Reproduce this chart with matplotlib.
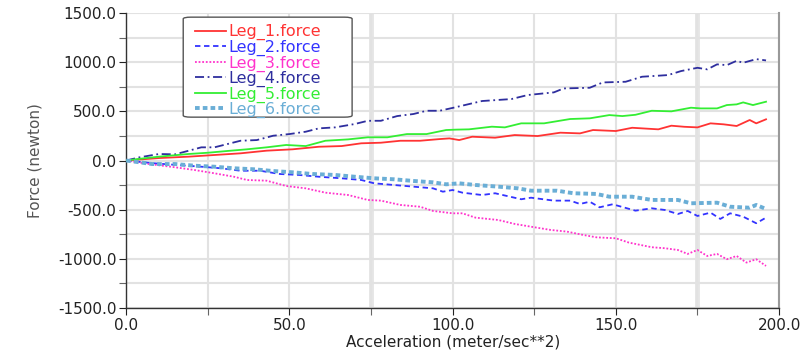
import matplotlib
matplotlib.use("Agg")
import matplotlib.pyplot as plt
from matplotlib.ticker import MultipleLocator, FormatStrFormatter
from matplotlib.patches import FancyBboxPatch

plt.rcParams['font.family'] = ['DejaVu Sans']

# ---- data ----
leg1_x = [0, 10, 19, 27, 35, 43, 51, 59, 66, 72, 78, 84, 90, 96, 99, 102, 106, 113, 119, 126, 133, 139,
          143, 150, 155, 163, 167, 171, 175, 179, 183, 187, 191, 193, 196]
leg1_y = [0, 25, 39, 56, 73, 100, 114, 140, 147, 175, 181, 201, 201, 218, 225, 208, 242, 232, 259, 249, 283, 276,
          310, 300, 333, 317, 354, 343, 337, 378, 368, 351, 412, 378, 419]

leg2_x = [0, 8, 15, 23, 29, 35, 41, 47, 53, 59, 66, 72, 76, 82, 88, 94, 97, 100, 103, 109, 113, 121, 124, 131,
          136, 139, 142, 145, 149, 156, 161, 165, 169, 172, 175, 179, 182, 185, 189, 193, 196]
leg2_y = [0, -27, -44, -63, -79, -104, -104, -137, -147, -165, -181, -198, -232, -249, -266, -283, -317, -300,
          -327, -351, -333, -394, -378, -408, -408, -442, -419, -476, -445, -510, -486, -503, -544, -513, -564,
          -530, -594, -537, -571, -638, -581]

leg3_x = [0, 7, 15, 21, 27, 33, 37, 43, 49, 55, 61, 68, 74, 78, 84, 90, 94, 100, 103, 107, 114, 119, 124,
          130, 135, 140, 144, 150, 154, 161, 165, 169, 172, 175, 178, 181, 184, 187, 190, 193, 196]
leg3_y = [0, -36, -69, -97, -130, -165, -198, -205, -259, -283, -327, -351, -401, -408, -452, -470, -513, -537,
          -537, -581, -605, -645, -673, -706, -723, -757, -781, -791, -835, -882, -892, -910, -950, -910, -971,
          -950, -1004, -971, -1038, -1004, -1072]

leg4_x = [0, 4, 10, 15, 23, 27, 35, 40, 45, 50, 55, 59, 64, 70, 74, 78, 83, 88, 92, 96, 100, 109, 118, 123,
          131, 134, 142, 146, 153, 158, 166, 170, 175, 178, 181, 184, 187, 189, 193, 196]
leg4_y = [0, 32, 66, 63, 134, 134, 201, 208, 252, 269, 293, 327, 337, 371, 404, 404, 452, 473, 506, 506, 535,
          605, 625, 666, 693, 733, 740, 794, 801, 852, 869, 910, 943, 927, 978, 970, 1014, 994, 1031, 1018]

leg5_x = [0, 4, 10, 19, 25, 31, 37, 43, 49, 55, 61, 68, 74, 80, 86, 92, 98, 101, 105, 112, 116, 121, 128,
          136, 142, 148, 152, 156, 161, 167, 173, 176, 181, 184, 187, 189, 192, 196]
leg5_y = [0, 17, 39, 66, 79, 97, 114, 134, 158, 147, 201, 215, 236, 236, 269, 269, 310, 314, 317, 344, 337,
          378, 378, 422, 429, 462, 452, 465, 506, 500, 537, 530, 530, 564, 571, 591, 564, 598]

leg6_x = [0, 8, 15, 21, 27, 33, 39, 45, 51, 57, 64, 70, 76, 82, 88, 94, 98, 102, 107, 114, 120, 124, 132,
          137, 144, 148, 155, 161, 169, 173, 181, 185, 191, 193, 196]
leg6_y = [0, -36, -36, -53, -63, -79, -89, -107, -120, -137, -147, -165, -181, -191, -208, -222, -242, -232,
          -249, -266, -283, -307, -307, -333, -340, -368, -368, -401, -401, -435, -429, -470, -480, -452, -493]

labels = ['Leg_1.force', 'Leg_2.force', 'Leg_3.force', 'Leg_4.force', 'Leg_5.force', 'Leg_6.force']

fig = plt.figure(figsize=(8.04, 3.52), dpi=100)
ax = fig.add_axes([0.157, 0.125, 0.812, 0.838])

styles = [
    dict(color='#ff3333', ls='-', lw=1.3),
    dict(color='#3333ff', ls=(0, (3, 2)), lw=1.3),
    dict(color='#ff33cc', ls=(0, (1, 1)), lw=1.3),
    dict(color='#2e2e9e', ls=(0, (5, 2, 1, 2)), lw=1.3),
    dict(color='#33ee33', ls='-', lw=1.3),
    dict(color='#6aaed6', ls=(0, (1.2, 0.8)), lw=2.8),
]
series = [(leg1_x, leg1_y), (leg2_x, leg2_y), (leg3_x, leg3_y),
          (leg4_x, leg4_y), (leg5_x, leg5_y), (leg6_x, leg6_y)]

# grid
ax.set_xlim(0, 200)
ax.set_ylim(-1500, 1500)
ax.xaxis.set_major_locator(MultipleLocator(50))
ax.xaxis.set_minor_locator(MultipleLocator(25))
ax.yaxis.set_major_locator(MultipleLocator(500))
ax.yaxis.set_minor_locator(MultipleLocator(250))
ax.grid(True, which='both', color='#e2e2e2', lw=1.5, zorder=0)
for xv in (75, 175):
    ax.axvline(xv, color='#e6e6e6', lw=3.5, zorder=0.5)
ax.axhline(0, color='#555555', lw=1.2, zorder=1)

lines = []
for (xs, ys), st, lab in zip(series, styles, labels):
    ln, = ax.plot(xs, ys, label=lab, zorder=3, **st)
    lines.append(ln)

ax.xaxis.set_major_formatter(FormatStrFormatter('%.1f'))
ax.yaxis.set_major_formatter(FormatStrFormatter('%.1f'))
ax.tick_params(axis='both', which='major', labelsize=11, colors='#222222', length=5, width=0.8, pad=2)
ax.tick_params(axis='both', which='minor', length=5, width=0.8, colors='#666666')

for s in ('left', 'bottom'):
    ax.spines[s].set_color('#333333')
    ax.spines[s].set_linewidth(1.0)
ax.spines['top'].set_visible(False)
ax.spines['right'].set_color('#999999')
ax.spines['right'].set_linewidth(1.5)

ax.set_xlabel('Acceleration (meter/sec**2)', fontsize=11, color='#222222', labelpad=1)
ax.set_ylabel('Force (newton)', fontsize=11, color='#555555', labelpad=11)

# legend box drawn separately (wider padding on the right as in the reference)
box = FancyBboxPatch((0.0873, 0.647), 0.2587, 0.339, boxstyle='round,pad=0,rounding_size=0.012',
                     transform=ax.transAxes, facecolor='white', edgecolor='#555555', lw=1.0,
                     zorder=4, mutation_aspect=0.5)
ax.add_patch(box)

leg = ax.legend(loc='upper left', bbox_to_anchor=(0.106, 0.962), borderaxespad=0,
                fontsize=11.5, handlelength=1.9, handletextpad=0.15, labelspacing=-0.04,
                frameon=False, borderpad=0)
leg.set_zorder(5)
for txt, ln in zip(leg.get_texts(), lines):
    txt.set_color(ln.get_color())

fig.savefig('out.png', dpi=100)
